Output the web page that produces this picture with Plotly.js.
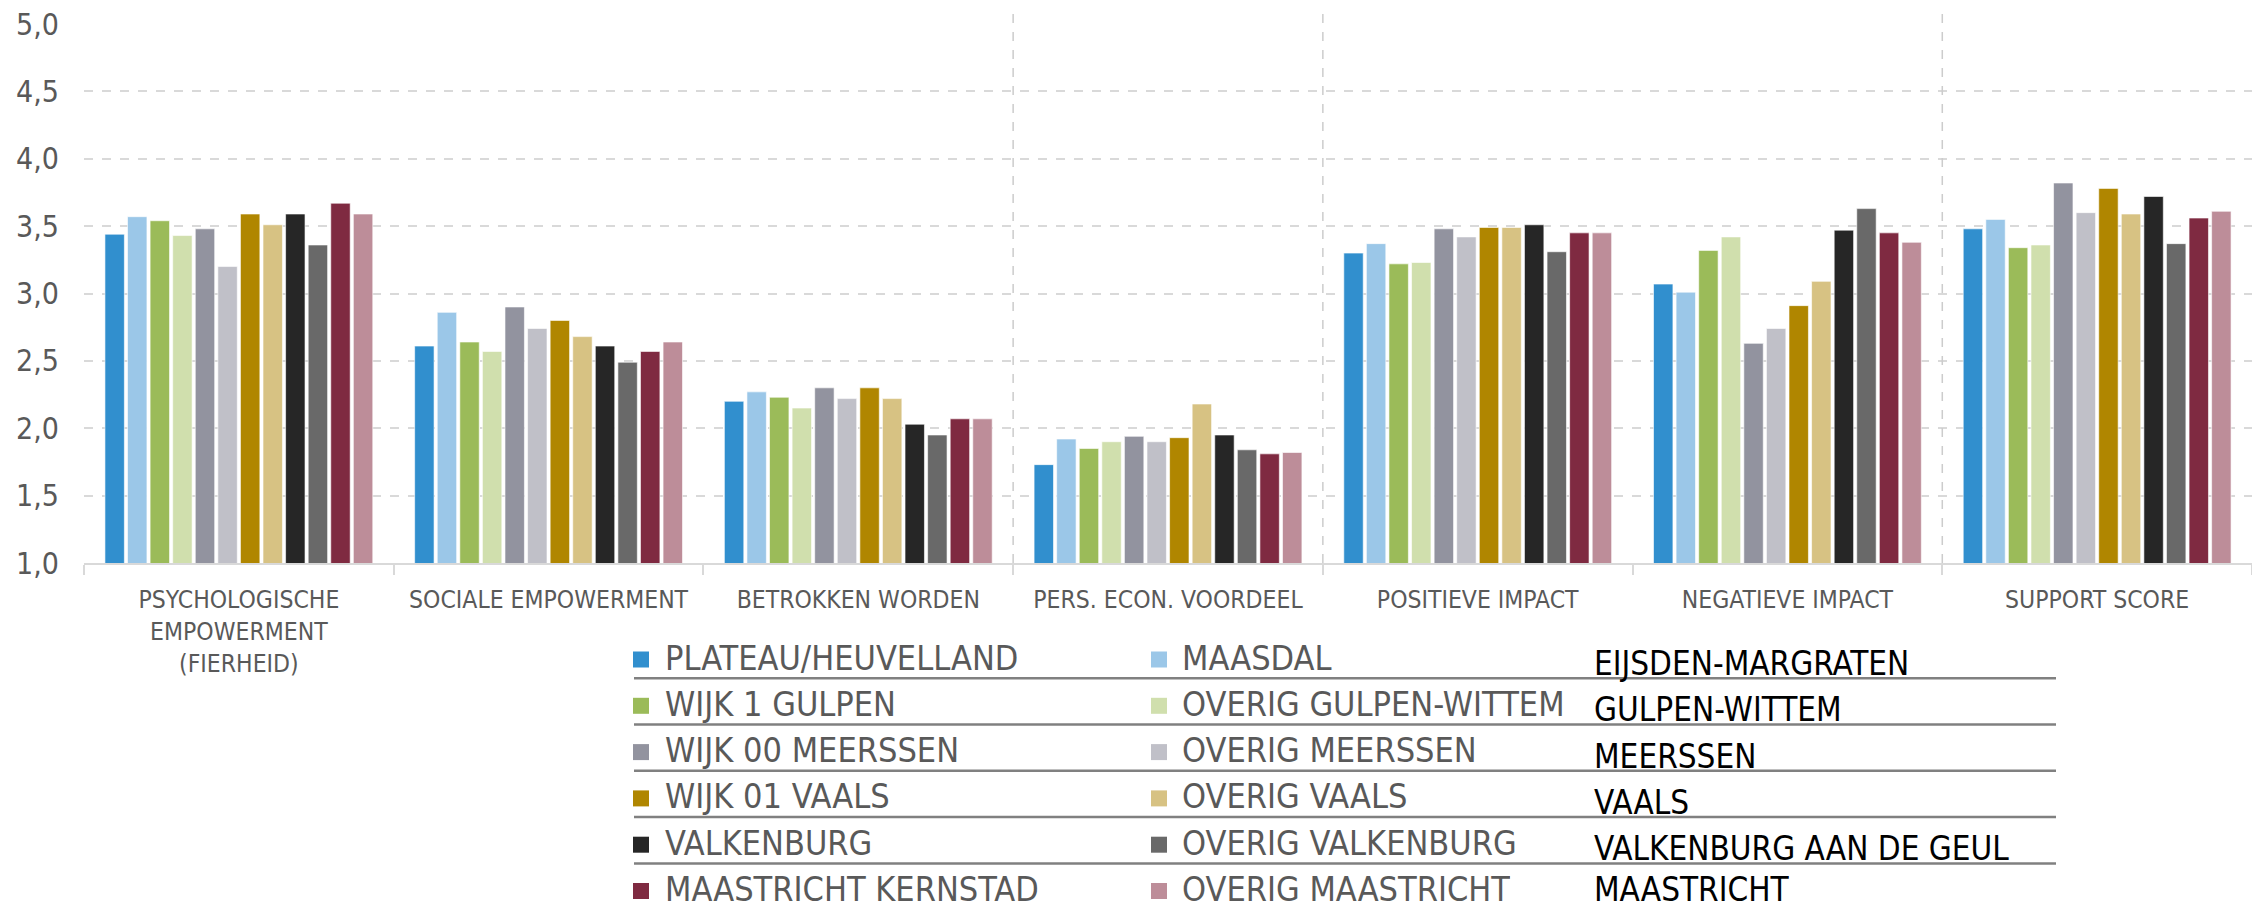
<!DOCTYPE html>
<html>
<head>
<meta charset="utf-8">
<script src="https://cdn.plot.ly/plotly-3.0.1.min.js"></script>
<style>
  html, body { margin: 0; padding: 0; background: #ffffff; }
  #chart { width: 2252px; height: 908px; }
</style>
</head>
<body>
<div id="chart"></div>
<script>
// ---- data ----
const categories = [
  "PSYCHOLOGISCHE<br>EMPOWERMENT<br>(FIERHEID)",
  "SOCIALE EMPOWERMENT",
  "BETROKKEN WORDEN",
  "PERS. ECON. VOORDEEL",
  "POSITIEVE IMPACT",
  "NEGATIEVE IMPACT",
  "SUPPORT SCORE"
];

const seriesNames = [
  "PLATEAU/HEUVELLAND", "MAASDAL",
  "WIJK 1 GULPEN", "OVERIG GULPEN-WITTEM",
  "WIJK 00 MEERSSEN", "OVERIG MEERSSEN",
  "WIJK 01 VAALS", "OVERIG VAALS",
  "VALKENBURG", "OVERIG VALKENBURG",
  "MAASTRICHT KERNSTAD", "OVERIG MAASTRICHT"
];

const plateauHeuvelland  = [3.44, 2.61, 2.20, 1.73, 3.30, 3.07, 3.48];
const maasdal            = [3.57, 2.86, 2.27, 1.92, 3.37, 3.01, 3.55];
const wijk1Gulpen        = [3.54, 2.64, 2.23, 1.85, 3.22, 3.32, 3.34];
const overigGulpenWittem = [3.43, 2.57, 2.15, 1.90, 3.23, 3.42, 3.36];
const wijk00Meerssen     = [3.48, 2.90, 2.30, 1.94, 3.48, 2.63, 3.82];
const overigMeerssen     = [3.20, 2.74, 2.22, 1.90, 3.42, 2.74, 3.60];
const wijk01Vaals        = [3.59, 2.80, 2.30, 1.93, 3.49, 2.91, 3.78];
const overigVaals        = [3.51, 2.68, 2.22, 2.18, 3.49, 3.09, 3.59];
const valkenburg         = [3.59, 2.61, 2.03, 1.95, 3.51, 3.47, 3.72];
const overigValkenburg   = [3.36, 2.49, 1.95, 1.84, 3.31, 3.63, 3.37];
const maastrichtKernstad = [3.67, 2.57, 2.07, 1.81, 3.45, 3.45, 3.56];
const overigMaastricht   = [3.59, 2.64, 2.07, 1.82, 3.45, 3.38, 3.61];

const municipalities = [
  "EIJSDEN-MARGRATEN", "GULPEN-WITTEM", "MEERSSEN",
  "VAALS", "VALKENBURG AAN DE GEUL", "MAASTRICHT"
];

// ---- styles ----
const seriesValues = [
  plateauHeuvelland, maasdal, wijk1Gulpen, overigGulpenWittem,
  wijk00Meerssen, overigMeerssen, wijk01Vaals, overigVaals,
  valkenburg, overigValkenburg, maastrichtKernstad, overigMaastricht
];
const colors = [
  "#318fce", "#9bc7e8", "#9bbb59", "#d0dfad",
  "#92939f", "#c0c0c8", "#b08600", "#d7c283",
  "#262626", "#696969", "#7f2a41", "#bd8d99"
];

const FONT = "'Liberation Sans Narrow', 'Arial Narrow', 'DejaVu Sans Condensed', sans-serif";
const W = 2252, H = 908;
const M = {l: 84, r: 0, t: 24, b: 345, autoexpand: false};
const plotW = W - M.l - M.r, plotH = H - M.t - M.b;
const px2x = px => (px - M.l) / plotW;
const py2y = py => (H - M.b - py) / plotH;

const traces = seriesNames.map((name, i) => ({
  type: "bar",
  name: name,
  x: categories,
  y: seriesValues[i],
  marker: {color: colors[i], line: {color: "rgba(255,255,255,0.6)", width: 1}},
  hoverinfo: "name+y",
  showlegend: false
}));

// ---- custom legend geometry (pixels) ----
const rowStart = 659.5, rowStep = 46.3;
const colMarkerX = [641, 1159];
const colTextX = [663, 1180];
const muniTextX = 1592;
const markerHalf = 8;

const shapes = [];
const annotations = [];

// vertical dashed lines at some category boundaries
[2.5, 3.5, 5.5].forEach(b => shapes.push({
  type: "line", xref: "x", yref: "paper", x0: b, x1: b, y0: 0, y1: 1.02,
  line: {color: "#cccccc", width: 1.5, dash: "dash"}
}));

for (let r = 0; r < 6; r++) {
  const cy = rowStart + r * rowStep;
  const last = (r === 5);
  for (let c = 0; c < 2; c++) {
    const idx = r * 2 + c;
    shapes.push({
      type: "rect", xref: "paper", yref: "paper",
      x0: px2x(colMarkerX[c] - markerHalf), x1: px2x(colMarkerX[c] + markerHalf),
      y0: py2y(cy + markerHalf), y1: py2y(cy - markerHalf),
      fillcolor: colors[idx], line: {width: 0}
    });
    const a = {
      text: seriesNames[idx], xref: "paper", yref: "paper",
      x: px2x(colTextX[c]), y: py2y(cy - 2),
      xanchor: "left", yanchor: "middle", showarrow: false,
      font: {family: FONT, size: 34, color: "#595959"}
    };
    if (last) { a.height = 36; a.valign = "middle"; }
    annotations.push(a);
  }
  const m = {
    text: municipalities[r], xref: "paper", yref: "paper",
    x: px2x(muniTextX), y: py2y(cy + (last ? -2 : 4)),
    xanchor: "left", yanchor: "middle", showarrow: false,
    font: {family: FONT, size: 33, color: "#000000"}
  };
  if (last) { m.height = 32; m.valign = "middle"; }
  annotations.push(m);
  if (r < 5) {
    const ly = cy + 18.7;
    shapes.push({
      type: "line", xref: "paper", yref: "paper",
      x0: px2x(634), x1: px2x(2056), y0: py2y(ly), y1: py2y(ly),
      line: {color: "#808080", width: 2.5}
    });
  }
}

const layout = {
  width: W, height: H,
  margin: M,
  paper_bgcolor: "#ffffff",
  plot_bgcolor: "#ffffff",
  separators: ", ",
  barmode: "group",
  bargap: 0.125,
  bargroupgap: 0.14,
  showlegend: false,
  font: {family: FONT, color: "#595959"},
  xaxis: {
    type: "category",
    showgrid: false,
    showline: true, linecolor: "#d9d9d9", linewidth: 2,
    ticks: "outside", tickson: "boundaries", ticklen: 10, tickcolor: "#d9d9d9", tickwidth: 2,
    ticklabelstandoff: 14,
    tickfont: {family: FONT, size: 24.5, color: "#595959"},
    fixedrange: true
  },
  yaxis: {
    range: [1, 5],
    dtick: 0.5,
    tickformat: ".1f",
    showgrid: true, gridcolor: "#d9d9d9", gridwidth: 2, griddash: "dash",
    zeroline: false, showline: false,
    ticks: "", ticklabelstandoff: 24,
    tickfont: {family: FONT, size: 30, color: "#595959"},
    fixedrange: true
  },
  shapes: shapes,
  annotations: annotations
};

Plotly.newPlot("chart", traces, layout, {displayModeBar: false, staticPlot: true});
</script>
</body>
</html>
